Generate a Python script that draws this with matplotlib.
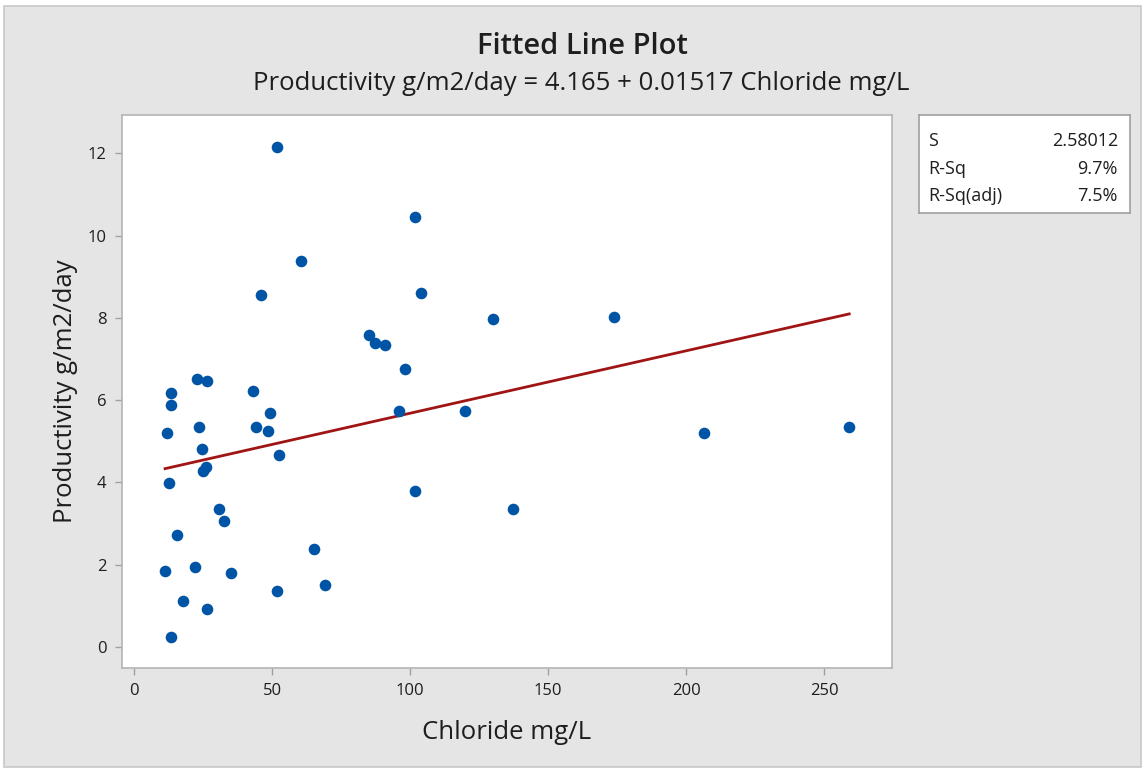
import matplotlib.pyplot as plt
from matplotlib.patches import Rectangle

plt.rcParams["font.family"] = ["Open Sans", "DejaVu Sans"]

# Chloride (mg/L) and productivity (g/m2/day) for each sample
chloride = [
    51.8, 101.6, 60.3, 104.0, 46.0, 130.0, 173.7, 85.0, 87.1, 90.8,
    98.0, 22.8, 26.4, 13.4, 43.1, 13.4, 49.3, 96.0, 119.8, 12.0,
    23.6, 44.2, 48.6, 24.6, 52.5, 25.9, 25.0, 12.7, 30.8, 32.6,
    101.6, 137.3, 15.6, 65.2, 11.2, 22.1, 35.1, 51.8, 69.2, 17.8,
    26.4, 13.4, 206.5, 259.1,
]
productivity = [
    12.16, 10.45, 9.38, 8.61, 8.55, 7.97, 8.02, 7.58, 7.39, 7.33,
    6.76, 6.51, 6.46, 6.17, 6.22, 5.88, 5.69, 5.73, 5.73, 5.20,
    5.35, 5.35, 5.25, 4.81, 4.67, 4.37, 4.28, 3.99, 3.35, 3.06,
    3.78, 3.35, 2.72, 2.38, 1.85, 1.94, 1.80, 1.36, 1.51, 1.12,
    0.92, 0.24, 5.19, 5.34,
]

# Regression summary
intercept = 4.165
slope = 0.01517
stat_names = ["S", "R-Sq", "R-Sq(adj)"]
stat_values = ["2.58012", "9.7%", "7.5%"]

x_ticks = [0, 50, 100, 150, 200, 250]
y_ticks = [0, 2, 4, 6, 8, 10, 12]

W, H = 1145, 770
TXT = "#1e1e1e"
fig = plt.figure(figsize=(W / 100, H / 100), dpi=100)
fig.patch.set_facecolor("white")
fig.patches.append(Rectangle((4 / W, 3 / H), 1 - 8 / W, 1 - 9 / H, transform=fig.transFigure,
                             facecolor="#e5e5e5", edgecolor="#c8c8c8", linewidth=1.2, zorder=-10))

ax = fig.add_axes([122 / W, 1 - 668 / H, (892 - 122) / W, (668 - 115) / H])
ax.set_facecolor("white")

ax.scatter(chloride, productivity, s=70, color="#0054a6", zorder=3, linewidths=0)

xmin, xmax = min(chloride), max(chloride)
ax.plot([xmin, xmax], [intercept + slope * xmin, intercept + slope * xmax],
        color="#a01414", linewidth=2, zorder=2)

ax.set_xlim(-4.4, 274.6)
ax.set_ylim(-0.51, 12.93)
ax.set_xticks(x_ticks)
ax.set_yticks(y_ticks)
ax.tick_params(direction="out", length=5, width=1, color="#a0a0a0",
               labelsize=12, labelcolor=TXT, pad=6)
for sp in ax.spines.values():
    sp.set_color("#b4b4b4")
    sp.set_linewidth(1.2)

ax.set_xlabel("Chloride mg/L", fontsize=18.5, color=TXT, labelpad=15)
ax.set_ylabel("Productivity g/m2/day", fontsize=18.5, color=TXT, labelpad=7)

fig.text(582 / W, 1 - 47 / H, "Fitted Line Plot", ha="center", va="center",
         fontsize=21, fontweight="semibold", color=TXT)
fig.text(581 / W, 1 - 83 / H,
         f"Productivity g/m2/day = {intercept} + {slope} Chloride mg/L",
         ha="center", va="center", fontsize=18.5, color=TXT)

# Summary box to the right of the plot
box = fig.add_axes([919 / W, 1 - 213 / H, (1130 - 919) / W, (213 - 115) / H])
box.set_xticks([])
box.set_yticks([])
box.set_facecolor("white")
for sp in box.spines.values():
    sp.set_color("#a0a0a0")
    sp.set_linewidth(1.2)
row_y = [141, 169, 196]
for name, val, yy in zip(stat_names, stat_values, row_y):
    fig.text(928 / W, 1 - yy / H, name, ha="left", va="center", fontsize=13, color=TXT)
    fig.text(1118 / W, 1 - yy / H, val, ha="right", va="center", fontsize=13, color=TXT)

fig.savefig("out.png", dpi=100)
